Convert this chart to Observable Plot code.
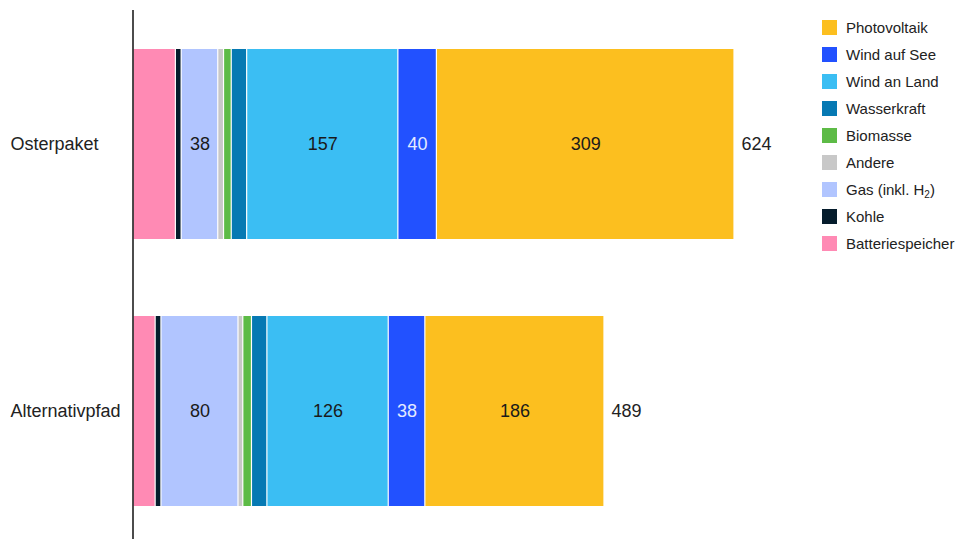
<!DOCTYPE html>
<html>
<head>
<meta charset="utf-8">
<script src="https://cdn.jsdelivr.net/npm/d3@7"></script>
<script src="https://cdn.jsdelivr.net/npm/@observablehq/plot@0.6"></script>
<style>
  body { margin: 0; background: #fff; font-family: "Liberation Sans", Arial, sans-serif; }
  #wrap { position: relative; width: 955px; height: 539px; overflow: hidden; }
  #legend { position: absolute; left: 822px; top: 14px; font-size: 15px; color: #222; white-space: nowrap; }
  .row { display: flex; align-items: center; height: 27px; }
  .sw { width: 15px; height: 15px; margin-right: 9px; flex: none; }
  sub { font-size: 10px; vertical-align: -3px; line-height: 0; }
</style>
</head>
<body>
<div id="wrap">
  <div id="chart"></div>
  <div id="legend"></div>
</div>
<script>
const groups = ["Osterpaket", "Alternativpfad"];
const categories = ["Batteriespeicher", "Kohle", "Gas (inkl. H₂)", "Andere", "Biomasse", "Wasserkraft", "Wind an Land", "Wind auf See", "Photovoltaik"];
const osterpaket = [44, 6, 38, 6, 8, 16, 157, 40, 309];
const alternativpfad = [23, 6, 80, 5, 9, 16, 126, 38, 186];
const totals = [624, 489];
const colors = ["#FF8AB4", "#051C2C", "#B1C5FF", "#C8C8C8", "#5DBB46", "#0679B3", "#3BBEF3", "#2251FF", "#FCBF1F"];
const labeledDark = ["Gas (inkl. H₂)", "Wind an Land", "Photovoltaik"];
const labeledLight = ["Wind auf See"];
const legendOrder = ["Photovoltaik", "Wind auf See", "Wind an Land", "Wasserkraft", "Biomasse", "Andere", "Gas (inkl. H₂)", "Kohle", "Batteriespeicher"];
const legendLabels = {"Gas (inkl. H₂)": "Gas (inkl. H<sub>2</sub>)"};

const series = [osterpaket, alternativpfad];
const data = [];
groups.forEach((g, gi) => categories.forEach((c, ci) => data.push({group: g, category: c, value: series[gi][ci]})));
const totalData = groups.map((g, i) => ({group: g, total: totals[i]}));

const font = "Liberation Sans, Arial, sans-serif";
const stackOpts = {x: "value", y: "group", z: "category", order: categories};

const chart = Plot.plot({
  width: 955,
  height: 539,
  marginTop: 10,
  marginBottom: 0,
  marginLeft: 0,
  marginRight: 0,
  style: {fontFamily: font, background: "white", color: "#222"},
  x: {domain: [0, 624], range: [133, 734], axis: null},
  y: {domain: groups, range: [10, 545.5], paddingInner: 0.29, paddingOuter: 0.146, axis: null},
  color: {domain: categories, range: colors},
  marks: [
    Plot.barX(data, Plot.stackX({...stackOpts, fill: "category", insetLeft: 0.6, insetRight: 0.6})),
    Plot.text(data, Plot.stackX({...stackOpts, text: d => labeledDark.includes(d.category) ? String(d.value) : "", fill: "#1a1a1a", fontSize: 18})),
    Plot.text(data, Plot.stackX({...stackOpts, text: d => labeledLight.includes(d.category) ? String(d.value) : "", fill: "#E3EAFF", fontSize: 18})),
    Plot.text(totalData, {x: "total", y: "group", text: d => String(d.total), dx: 7, textAnchor: "start", fill: "#222", fontSize: 18}),
    Plot.text(groups, {y: d => d, text: d => d, frameAnchor: "left", dx: 10, textAnchor: "start", fill: "#222", fontSize: 18}),
    Plot.ruleX([0], {stroke: "#111", strokeWidth: 1.5, dx: -0.5})
  ]
});
document.getElementById("chart").appendChild(chart);

const legend = document.getElementById("legend");
legendOrder.forEach(c => {
  const row = document.createElement("div");
  row.className = "row";
  const sw = document.createElement("div");
  sw.className = "sw";
  sw.style.background = colors[categories.indexOf(c)];
  const lab = document.createElement("span");
  lab.innerHTML = legendLabels[c] || c;
  row.appendChild(sw);
  row.appendChild(lab);
  legend.appendChild(row);
});
</script>
</body>
</html>
